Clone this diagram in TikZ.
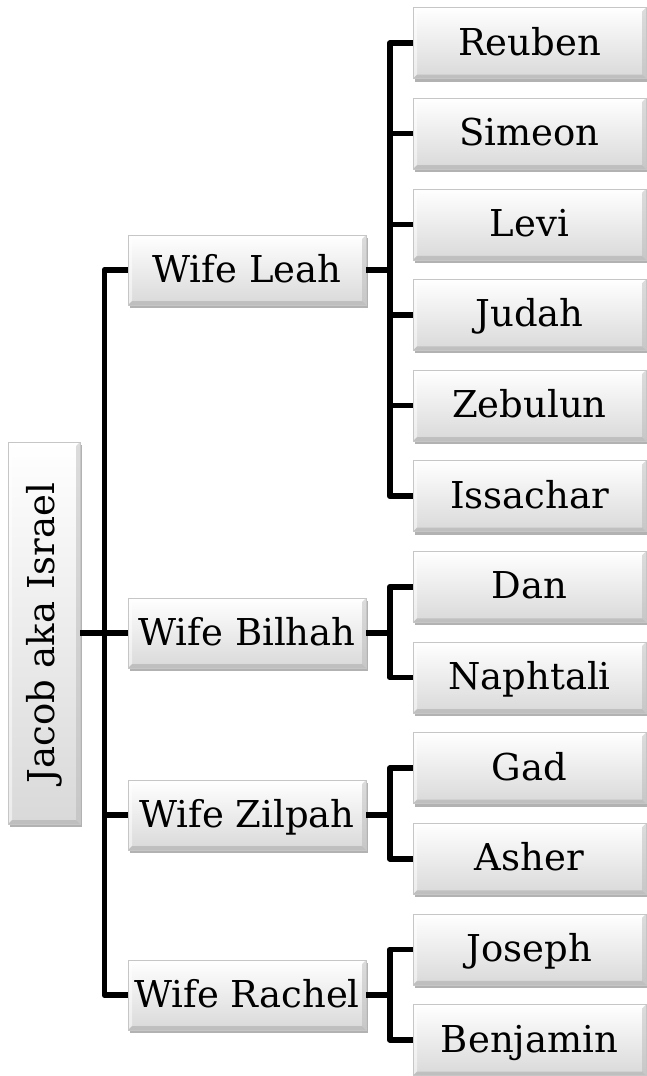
\documentclass[tikz,border=0pt]{standalone}
\usepackage{fontspec}
\setmainfont{DejaVu Serif}
\usetikzlibrary{shadows}
\tikzset{
  box/.style={rectangle, draw=gray!45, line width=0.5pt,
    top color=white, bottom color=gray!30,
    drop shadow={shadow xshift=1.5pt, shadow yshift=-3pt, opacity=0.3, fill=black},
    font=\fontsize{37}{40}\selectfont, inner sep=0pt,
    path picture={
      \fill[white,opacity=0.7] (path picture bounding box.north west) -- (path picture bounding box.north east)
        -- ([xshift=-4pt,yshift=-4pt]path picture bounding box.north east) -- ([xshift=4pt,yshift=-4pt]path picture bounding box.north west) -- cycle;
      \fill[white,opacity=0.5] (path picture bounding box.north west) -- (path picture bounding box.south west)
        -- ([xshift=4pt,yshift=4pt]path picture bounding box.south west) -- ([xshift=4pt,yshift=-4pt]path picture bounding box.north west) -- cycle;
      \fill[gray!70,opacity=0.5] (path picture bounding box.south west) -- (path picture bounding box.south east)
        -- ([xshift=-4pt,yshift=4pt]path picture bounding box.south east) -- ([xshift=4pt,yshift=4pt]path picture bounding box.south west) -- cycle;
      \fill[gray!60,opacity=0.45] (path picture bounding box.north east) -- (path picture bounding box.south east)
        -- ([xshift=-4pt,yshift=4pt]path picture bounding box.south east) -- ([xshift=-4pt,yshift=-4pt]path picture bounding box.north east) -- cycle;
    }},
  wife/.style={box, minimum width=238pt, minimum height=70pt, text height=27pt, text depth=3pt},
  kid/.style={box, minimum width=233pt, minimum height=71pt, text height=27pt, text depth=3pt},
  conn/.style={line width=5.5pt, line join=round}
}
\begin{document}
\begin{tikzpicture}[x=1pt, y=-1pt]
\useasboundingbox (0,0) rectangle (646,1076);
\fill[white] (0,0) rectangle (646,1076);

\node[box, minimum width=72pt, minimum height=382pt] (root) at (44,633) {\rotatebox{90}{Jacob aka Israel}};

\node[wife] (w1) at (247,270) {Wife Leah};
\node[wife] (w2) at (247,633) {Wife Bilhah};
\node[wife] (w3) at (247,815) {Wife Zilpah};
\node[wife] (w4) at (247,995) {Wife Rachel};

\node[kid] (c1) at (529.5,43) {Reuben};
\node[kid] (c2) at (529.5,133.6) {Simeon};
\node[kid] (c3) at (529.5,224.3) {Levi};
\node[kid] (c4) at (529.5,314.9) {Judah};
\node[kid] (c5) at (529.5,405.6) {Zebulun};
\node[kid] (c6) at (529.5,496.2) {Issachar};
\node[kid] (c7) at (529.5,586.8) {Dan};
\node[kid] (c8) at (529.5,677.5) {Naphtali};
\node[kid] (c9) at (529.5,768.1) {Gad};
\node[kid] (c10) at (529.5,858.8) {Asher};
\node[kid] (c11) at (529.5,949.4) {Joseph};
\node[kid] (c12) at (529.5,1040) {Benjamin};

\foreach \w in {w1,w2,w3,w4}
  \draw[conn] (root.east) -- ++(24,0) |- (\w.west);
\foreach \c in {c1,c2,c3,c4,c5,c6}
  \draw[conn] (w1.east) -- ++(23.5,0) |- (\c.west);
\foreach \c in {c7,c8}
  \draw[conn] (w2.east) -- ++(23.5,0) |- (\c.west);
\foreach \c in {c9,c10}
  \draw[conn] (w3.east) -- ++(23.5,0) |- (\c.west);
\foreach \c in {c11,c12}
  \draw[conn] (w4.east) -- ++(23.5,0) |- (\c.west);
\end{tikzpicture}
\end{document}
